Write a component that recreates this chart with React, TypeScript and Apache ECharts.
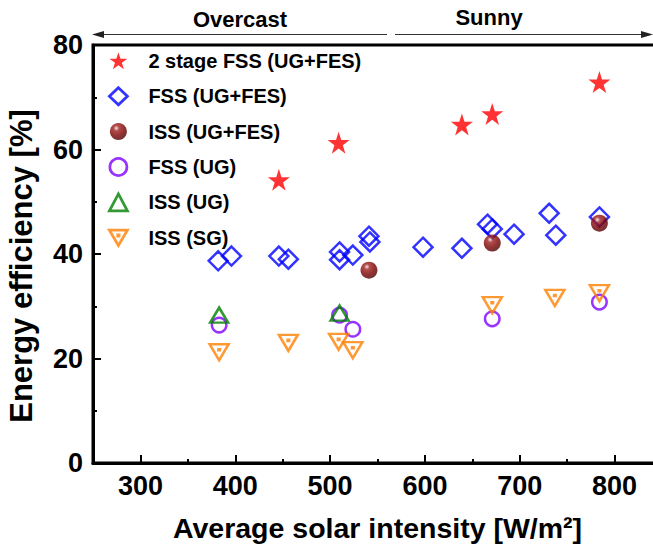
import React, { useEffect, useRef } from "react";
import * as echarts from "echarts";

// ---- data ----
const seriesNames = [
  "2 stage FSS (UG+FES)",
  "FSS (UG+FES)",
  "ISS (UG+FES)",
  "FSS (UG)",
  "ISS (UG)",
  "ISS (SG)",
];
const twoStageFssUgFes: [number, number][] = [
  [446, 54.2], [509, 61.3], [639, 64.8], [671, 66.8], [784, 72.9],
];
const fssUgFes: [number, number][] = [
  [382, 38.7], [396, 39.6], [446, 39.6], [456, 39.0], [510, 40.4], [510, 38.9],
  [524, 39.8], [541, 43.4], [542, 42.3], [598, 41.3], [639, 41.1], [666, 45.7],
  [671, 44.8], [694, 43.8], [731, 47.8], [738, 43.6], [784, 47.1],
];
const issUgFes: [number, number][] = [
  [541, 36.9], [671, 42.1], [784, 45.9],
];
const fssUg: [number, number][] = [
  [383, 26.4], [510, 28.3], [524, 25.6], [671, 27.6], [784, 30.8],
];
const issUg: [number, number][] = [
  [383, 28.3], [510, 28.7],
];
const issSg: [number, number][] = [
  [383, 21.2], [456, 23.0], [509, 23.2], [524, 21.6], [671, 30.2], [737, 31.6], [784, 32.5],
];
const xMajorTicks = [300, 400, 500, 600, 700, 800];
const xMinorTicks = [350, 450, 550, 650, 750];
const regionLabels = ["Overcast", "Sunny"];

const FONT = "'Liberation Sans', Arial, Helvetica, sans-serif";
const STAR =
  "path://M50 0 L61.23 34.55 L97.55 34.55 L68.16 55.9 L79.39 90.45 L50 69.1 L20.61 90.45 L31.84 55.9 L2.45 34.55 L38.77 34.55 Z";
const INV_TRI_DOT = "path://M0 0 L20 0 L10 17 Z M9.3 5.2 L10.7 5.2 L10.7 6.6 L9.3 6.6 Z";

export default function App() {
  const ref = useRef<HTMLDivElement>(null);
  useEffect(() => {
    if (!ref.current) return;
    const chart = echarts.init(ref.current, undefined, { renderer: "svg" });
    const hollow = (c: string) => ({
      color: "rgba(255,255,255,0)",
      borderColor: c,
      borderWidth: 2.5,
    });
    const option: any = {
      animation: false,
      backgroundColor: "#fff",
      grid: {
        left: 93,
        top: 45,
        right: -9,
        bottom: 81,
        show: true,
        borderColor: "#000",
        borderWidth: 3,
        backgroundColor: "rgba(0,0,0,0)",
        containLabel: false,
        outerBoundsMode: "none",
      },
      legend: {
        orient: "vertical",
        left: 103,
        top: 45.8,
        itemWidth: 18,
        itemHeight: 17,
        itemGap: 15.4,
        data: seriesNames,
        itemStyle: { borderWidth: 2.8 },
        textStyle: {
          fontFamily: FONT,
          fontWeight: "bold",
          fontSize: 20,
          color: "#000",
          padding: [0, 0, 0, 16],
        },
      },
      xAxis: [
        {
          type: "value",
          min: 250,
          max: 850,
          position: "bottom",
          name: "Average solar intensity [W/m²]",
          nameLocation: "middle",
          nameGap: 50,
          nameTextStyle: { fontFamily: FONT, fontWeight: "bold", fontSize: 28.5, color: "#000" },
          axisLine: { show: true, lineStyle: { color: "#000", width: 3 } },
          axisTick: { show: true, inside: true, length: 8, lineStyle: { color: "#000", width: 2 }, customValues: xMajorTicks },
          axisLabel: {
            show: true,
            customValues: xMajorTicks,
            margin: 9,
            fontFamily: FONT,
            fontWeight: "bold",
            fontSize: 27,
            color: "#000",
          },
          splitLine: { show: false },
        },
        {
          type: "value",
          min: 250,
          max: 850,
          position: "bottom",
          axisLine: { show: false },
          axisTick: { show: true, inside: true, length: 4, lineStyle: { color: "#000", width: 2 }, customValues: xMinorTicks },
          axisLabel: { show: false },
          splitLine: { show: false },
        },
      ],
      yAxis: {
        type: "value",
        min: 0,
        max: 80,
        interval: 20,
        name: "Energy efficiency [%]",
        nameLocation: "middle",
        nameGap: 56,
        nameTextStyle: {
          fontFamily: FONT,
          fontWeight: "bold",
          fontSize: 31,
          color: "#000",
          padding: [0, 24, 0, 0],
        },
        axisLine: { show: true, lineStyle: { color: "#000", width: 3 } },
        axisTick: { show: true, inside: true, length: 8, lineStyle: { color: "#000", width: 2 } },
        minorTick: { show: true, splitNumber: 2, length: 4, lineStyle: { color: "#000", width: 2 } },
        axisLabel: { margin: 10, fontFamily: FONT, fontWeight: "bold", fontSize: 27, color: "#000" },
        splitLine: { show: false },
      },
      series: [
        {
          name: seriesNames[0],
          type: "scatter",
          data: twoStageFssUgFes,
          symbol: STAR,
          symbolSize: 22,
          itemStyle: { color: "#ff0000" },
        },
        {
          name: seriesNames[1],
          type: "scatter",
          data: fssUgFes,
          symbol: "diamond",
          symbolSize: 19,
          itemStyle: hollow("#0000ff"),
        },
        {
          name: seriesNames[2],
          type: "scatter",
          data: issUgFes,
          symbol: "circle",
          symbolSize: 17,
          itemStyle: {
            color: {
              type: "radial",
              x: 0.38,
              y: 0.3,
              r: 0.75,
              colorStops: [
                { offset: 0, color: "#f4dede" },
                { offset: 0.22, color: "#a02020" },
                { offset: 0.6, color: "#7a0000" },
                { offset: 1, color: "#4a0000" },
              ],
            },
          },
        },
        {
          name: seriesNames[3],
          type: "scatter",
          data: fssUg,
          symbol: "circle",
          symbolSize: 14.5,
          itemStyle: hollow("#8000ff"),
        },
        {
          name: seriesNames[4],
          type: "scatter",
          data: issUg,
          symbol: "triangle",
          symbolSize: [18, 15],
          itemStyle: hollow("#008000"),
        },
        {
          name: seriesNames[5],
          type: "scatter",
          data: issSg,
          symbol: INV_TRI_DOT,
          symbolSize: [19, 16],
          itemStyle: hollow("#ff8000"),
        },
      ],
      graphic: [
        { type: "line", shape: { x1: 100, y1: 34.5, x2: 387, y2: 34.5 }, style: { stroke: "#333", lineWidth: 1.2 } },
        { type: "polygon", shape: { points: [[92, 34.5], [104, 31], [104, 38]] }, style: { fill: "#222" } },
        { type: "line", shape: { x1: 395, y1: 34.5, x2: 645, y2: 34.5 }, style: { stroke: "#333", lineWidth: 1.2 } },
        { type: "polygon", shape: { points: [[653, 34.5], [641, 31], [641, 38]] }, style: { fill: "#222" } },
        {
          type: "text",
          x: 240,
          y: 19,
          style: {
            text: regionLabels[0],
            fontFamily: FONT,
            fontWeight: "bold",
            fontSize: 22,
            fill: "#000",
            textAlign: "center",
            textVerticalAlign: "middle",
          },
        },
        {
          type: "text",
          x: 489,
          y: 17,
          style: {
            text: regionLabels[1],
            fontFamily: FONT,
            fontWeight: "bold",
            fontSize: 22,
            fill: "#000",
            textAlign: "center",
            textVerticalAlign: "middle",
          },
        },
      ],
    };
    chart.setOption(option);
    return () => chart.dispose();
  }, []);
  return (
    <div
      ref={ref}
      style={{ position: "fixed", left: 0, top: 0, width: 653, height: 544, background: "#fff" }}
    />
  );
}
